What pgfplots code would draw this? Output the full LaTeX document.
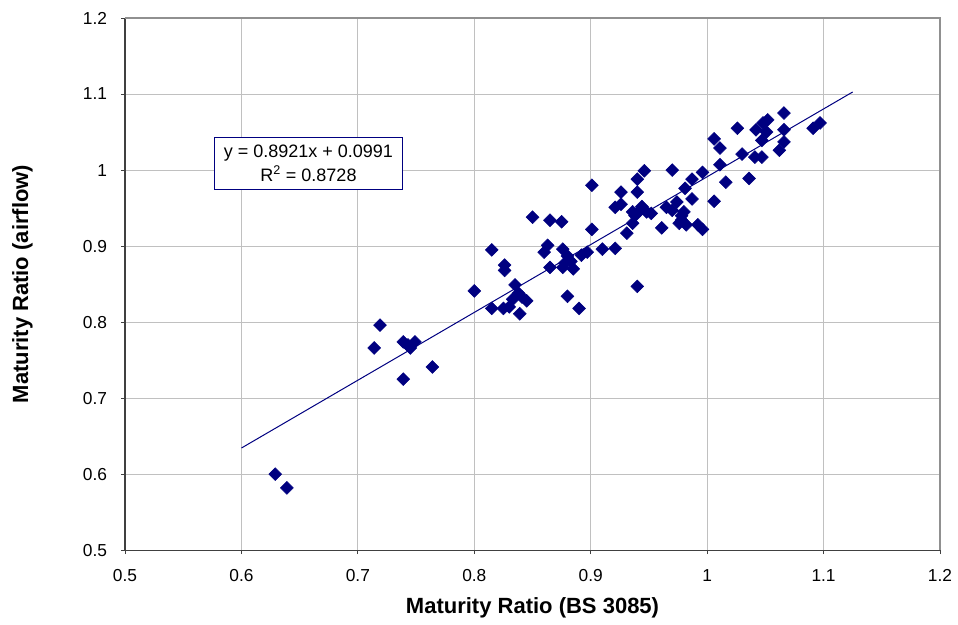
\documentclass[border=0pt]{standalone}
\usepackage{fontspec}
\setmainfont{Liberation Sans}
\usepackage{pgfplots}
\pgfplotsset{compat=1.18}
\usetikzlibrary{calc}
\definecolor{navyblue}{HTML}{000080}
\definecolor{gridgray}{HTML}{C0C0C0}
\definecolor{axisdark}{HTML}{404040}
\definecolor{bordergray}{HTML}{909090}

\pgfplotstableread{
x y
0.629 0.600
0.639 0.582
0.714 0.766
0.719 0.796
0.739 0.774
0.749 0.774
0.745 0.766
0.743 0.770
0.764 0.741
0.739 0.725
0.800 0.841
0.815 0.818
0.815 0.895
0.826 0.875
0.826 0.868
0.825 0.818
0.830 0.820
0.835 0.849
0.838 0.838
0.841 0.833
0.839 0.811
0.845 0.828
0.833 0.830
0.850 0.938
0.865 0.934
0.875 0.932
0.863 0.901
0.860 0.892
0.876 0.896
0.880 0.887
0.865 0.872
0.876 0.872
0.885 0.870
0.892 0.888
0.897 0.892
0.880 0.834
0.890 0.818
0.883 0.880
0.878 0.878
0.901 0.980
0.901 0.922
0.910 0.896
0.921 0.897
0.931 0.917
0.936 0.930
0.921 0.951
0.926 0.955
0.926 0.971
0.936 0.945
0.942 0.947
0.948 0.945
0.940 0.988
0.940 0.971
0.946 0.999
0.940 0.847
0.938 0.940
0.944 0.952
0.952 0.943
0.961 0.924
0.965 0.951
0.970 0.947
0.970 1.000
0.974 0.958
0.976 0.930
0.978 0.934
0.981 0.976
0.980 0.945
0.982 0.928
0.987 0.988
0.987 0.962
0.992 0.928
0.996 0.922
0.996 0.997
0.978 0.940
1.006 1.041
1.011 1.029
1.026 1.055
1.011 1.007
1.016 0.984
1.006 0.959
1.036 0.989
1.030 1.021
1.041 1.017
1.047 1.017
1.042 1.053
1.048 1.062
1.052 1.066
1.051 1.050
1.047 1.039
1.066 1.075
1.066 1.053
1.066 1.037
1.062 1.026
1.091 1.055
1.097 1.062
}\maturity

\begin{document}
\begin{tikzpicture}
\begin{axis}[
  name=ax,
  scale only axis,
  width=611pt, height=399pt,
  xmin=0.5, xmax=1.2, ymin=0.5, ymax=1.2,
  xtick={0.5,0.6,...,1.21}, ytick={0.5,0.6,...,1.21},
  xticklabels={0.5,0.6,0.7,0.8,0.9,1,1.1,1.2},
  yticklabels={0.5,0.6,0.7,0.8,0.9,1,1.1,1.2},
  axis x line*=bottom, axis y line*=left,
  axis line style={draw=axisdark, line width=0.9pt, -},
  tick align=outside, major tick length=3pt,
  tick style={draw=axisdark, line width=0.75pt},
  grid=major, grid style={draw=gridgray, line width=0.75pt},
  tick label style={font=\fontsize{13}{15}\selectfont},
  yticklabel style={xshift=-7pt},
  xticklabel style={yshift=-8pt},
  /pgf/number format/assume math mode=true,
  xlabel={Maturity Ratio (BS 3085)},
  ylabel={Maturity Ratio (airflow)},
  label style={font=\fontsize{16.5}{18}\bfseries\selectfont},
  xlabel style={at={(axis description cs:0.5,-0.109)}, anchor=center},
  ylabel style={at={(axis description cs:-0.126,0.5)}, anchor=center, rotate=0},
  clip=false,
]
\draw[bordergray, line width=0.9pt] (rel axis cs:0,1) -- (rel axis cs:1,1) -- (rel axis cs:1,0);
\addplot[only marks, mark=square*, mark size=3.4pt,
  mark options={rotate=45, fill=navyblue, draw=navyblue}] table[x=x, y=y] {\maturity};
\addplot[navyblue, line width=0.75pt] coordinates {(0.6,0.6344) (1.125,1.1027)};
\node[draw=navyblue, line width=0.75pt, fill=white, align=center,
  font=\fontsize{13.5}{18}\selectfont, inner xsep=7pt, inner ysep=6pt]
  at (axis cs:0.6575,1.0086) {y = 0.8921x + 0.0991\\R\textsuperscript{2} = 0.8728};
\end{axis}
\pgfresetboundingbox
\path ($(ax.south west)+(-93.75pt,-55.5pt)$) rectangle ($(ax.north east)+(13.5pt,13.5pt)$);
\end{tikzpicture}
\end{document}
